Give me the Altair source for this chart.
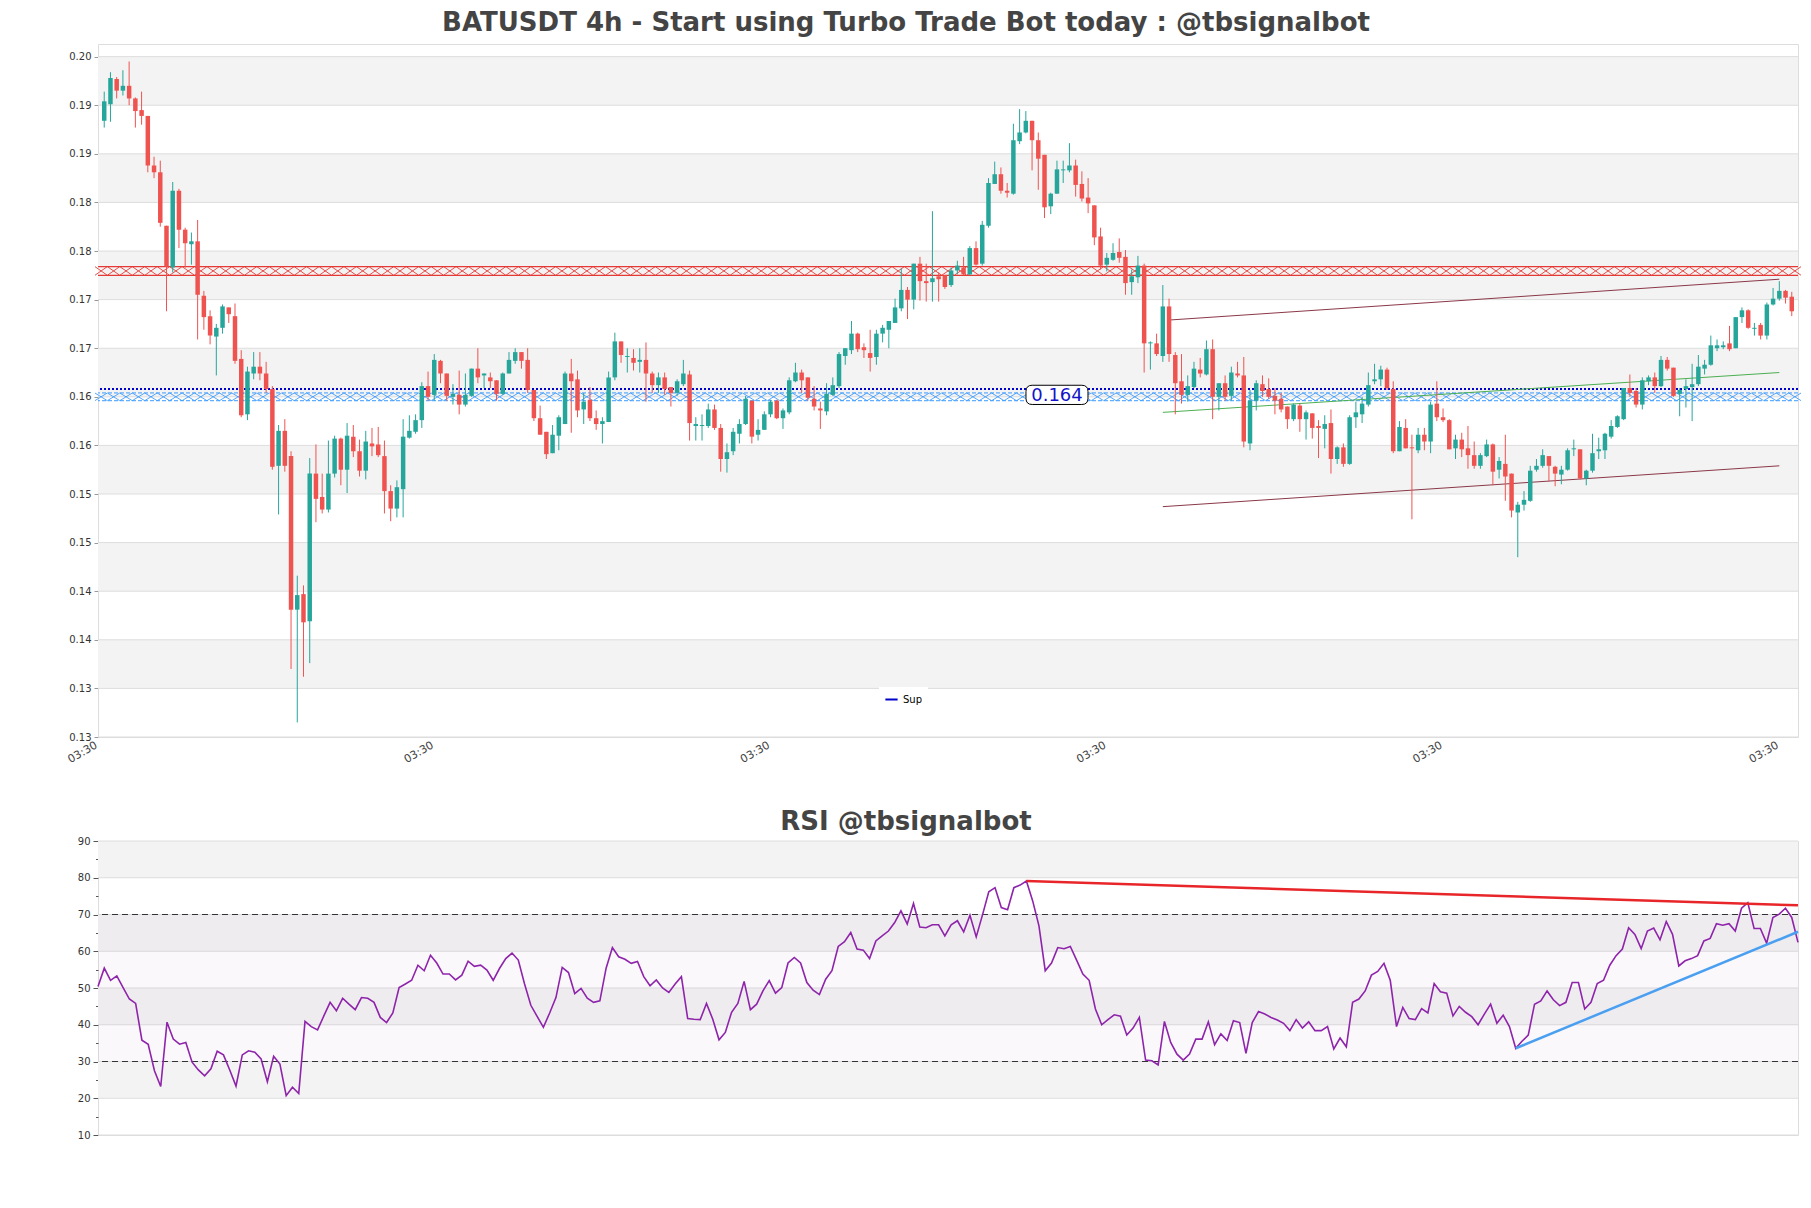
import altair as alt
import numpy as np
import pandas as pd

# ---------------- data ----------------
open_ = [
0.1934, 0.1951, 0.1977, 0.1965, 0.1970, 0.1957, 0.1945, 0.1939, 0.1888, 0.1881,
0.1826, 0.1783, 0.1862, 0.1822, 0.1807, 0.1810, 0.1754, 0.1733, 0.1712, 0.1721,
0.1742, 0.1733, 0.1689, 0.1632, 0.1674, 0.1681, 0.1674, 0.1658, 0.1579, 0.1615,
0.1589, 0.1431, 0.1447, 0.1419, 0.1571, 0.1547, 0.1534, 0.1571, 0.1607, 0.1575,
0.1609, 0.1594, 0.1574, 0.1602, 0.1601, 0.1589, 0.1553, 0.1535, 0.1555, 0.1608,
0.1614, 0.1626, 0.1661, 0.1652, 0.1687, 0.1674, 0.1650, 0.1652, 0.1642, 0.1651,
0.1679, 0.1672, 0.1670, 0.1667, 0.1653, 0.1674, 0.1687, 0.1696, 0.1688, 0.1657,
0.1628, 0.1614, 0.1592, 0.1610, 0.1622, 0.1674, 0.1668, 0.1637, 0.1647, 0.1628,
0.1622, 0.1624, 0.1670, 0.1707, 0.1691, 0.1690, 0.1686, 0.1688, 0.1674, 0.1662,
0.1670, 0.1660, 0.1654, 0.1663, 0.1673, 0.1620, 0.1620, 0.1620, 0.1637, 0.1618,
0.1586, 0.1594, 0.1612, 0.1622, 0.1646, 0.1611, 0.1616, 0.1632, 0.1646, 0.1628,
0.1634, 0.1666, 0.1675, 0.1670, 0.1648, 0.1638, 0.1635, 0.1652, 0.1661, 0.1692,
0.1698, 0.1715, 0.1701, 0.1695, 0.1691, 0.1715, 0.1719, 0.1726, 0.1741, 0.1760,
0.1750, 0.1787, 0.1769, 0.1768, 0.1774, 0.1775, 0.1765, 0.1780, 0.1783, 0.1776,
0.1803, 0.1787, 0.1826, 0.1869, 0.1879, 0.1862, 0.1859, 0.1913, 0.1922, 0.1934,
0.1914, 0.1899, 0.1846, 0.1859, 0.1883, 0.1883, 0.1888, 0.1869, 0.1855, 0.1847,
0.1815, 0.1786, 0.1791, 0.1799, 0.1794, 0.1768, 0.1773, 0.1785, 0.1705, 0.1705,
0.1692, 0.1743, 0.1693, 0.1666, 0.1652, 0.1660, 0.1678, 0.1673, 0.1699, 0.1650,
0.1664, 0.1651, 0.1674, 0.1672, 0.1602, 0.1646, 0.1663, 0.1658, 0.1651, 0.1648,
0.1640, 0.1627, 0.1641, 0.1627, 0.1633, 0.1620, 0.1617, 0.1623, 0.1586, 0.1598,
0.1581, 0.1629, 0.1632, 0.1642, 0.1666, 0.1668, 0.1678, 0.1658, 0.1594, 0.1618,
0.1598, 0.1595, 0.1611, 0.1604, 0.1643, 0.1629, 0.1626, 0.1597, 0.1606, 0.1597,
0.1590, 0.1579, 0.1589, 0.1601, 0.1575, 0.1581, 0.1571, 0.1531, 0.1539, 0.1543,
0.1575, 0.1579, 0.1589, 0.1578, 0.1570, 0.1575, 0.1596, 0.1596, 0.1566, 0.1574,
0.1594, 0.1595, 0.1609, 0.1619, 0.1627, 0.1659, 0.1656, 0.1642, 0.1666, 0.1670,
0.1661, 0.1688, 0.1680, 0.1653, 0.1658, 0.1660, 0.1663, 0.1679, 0.1683, 0.1700,
0.1701, 0.1705, 0.1700, 0.1732, 0.1739, 0.1720, 0.1724, 0.1713, 0.1745, 0.1751,
0.1759, 0.1753]

close = [
0.1954, 0.1978, 0.1965, 0.1970, 0.1957, 0.1944, 0.1939, 0.1888, 0.1881, 0.1829,
0.1784, 0.1862, 0.1822, 0.1808, 0.1810, 0.1755, 0.1732, 0.1713, 0.1721, 0.1743,
0.1735, 0.1687, 0.1631, 0.1676, 0.1681, 0.1674, 0.1658, 0.1578, 0.1615, 0.1579,
0.1431, 0.1446, 0.1418, 0.1571, 0.1545, 0.1534, 0.1571, 0.1607, 0.1575, 0.1610,
0.1594, 0.1574, 0.1604, 0.1599, 0.1590, 0.1553, 0.1535, 0.1557, 0.1609, 0.1615,
0.1626, 0.1661, 0.1650, 0.1688, 0.1674, 0.1651, 0.1653, 0.1642, 0.1652, 0.1679,
0.1670, 0.1674, 0.1666, 0.1653, 0.1674, 0.1688, 0.1696, 0.1687, 0.1657, 0.1628,
0.1611, 0.1591, 0.1611, 0.1629, 0.1674, 0.1666, 0.1636, 0.1645, 0.1628, 0.1622,
0.1625, 0.1670, 0.1707, 0.1693, 0.1692, 0.1685, 0.1688, 0.1674, 0.1662, 0.1670,
0.1658, 0.1654, 0.1666, 0.1674, 0.1623, 0.1622, 0.1621, 0.1637, 0.1618, 0.1586,
0.1593, 0.1614, 0.1622, 0.1648, 0.1609, 0.1616, 0.1632, 0.1645, 0.1628, 0.1636,
0.1667, 0.1675, 0.1667, 0.1649, 0.1640, 0.1636, 0.1653, 0.1662, 0.1694, 0.1700,
0.1715, 0.1699, 0.1698, 0.1690, 0.1715, 0.1721, 0.1728, 0.1742, 0.1760, 0.1750,
0.1787, 0.1769, 0.1767, 0.1772, 0.1771, 0.1763, 0.1780, 0.1785, 0.1776, 0.1803,
0.1786, 0.1827, 0.1870, 0.1879, 0.1862, 0.1860, 0.1914, 0.1922, 0.1934, 0.1914,
0.1895, 0.1845, 0.1859, 0.1884, 0.1884, 0.1888, 0.1868, 0.1854, 0.1849, 0.1814,
0.1785, 0.1793, 0.1798, 0.1793, 0.1767, 0.1774, 0.1785, 0.1705, 0.1706, 0.1694,
0.1743, 0.1694, 0.1664, 0.1652, 0.1661, 0.1679, 0.1674, 0.1699, 0.1650, 0.1664,
0.1650, 0.1675, 0.1672, 0.1604, 0.1646, 0.1664, 0.1656, 0.1650, 0.1646, 0.1637,
0.1627, 0.1642, 0.1627, 0.1634, 0.1618, 0.1618, 0.1622, 0.1586, 0.1598, 0.1581,
0.1629, 0.1634, 0.1643, 0.1662, 0.1668, 0.1678, 0.1659, 0.1594, 0.1619, 0.1597,
0.1597, 0.1611, 0.1604, 0.1642, 0.1629, 0.1626, 0.1596, 0.1606, 0.1596, 0.1590,
0.1579, 0.1590, 0.1601, 0.1573, 0.1584, 0.1568, 0.1533, 0.1539, 0.1544, 0.1574,
0.1579, 0.1590, 0.1579, 0.1571, 0.1575, 0.1595, 0.1597, 0.1566, 0.1574, 0.1592,
0.1596, 0.1612, 0.1620, 0.1630, 0.1659, 0.1654, 0.1642, 0.1667, 0.1670, 0.1661,
0.1688, 0.1679, 0.1651, 0.1657, 0.1661, 0.1663, 0.1681, 0.1683, 0.1703, 0.1703,
0.1703, 0.1699, 0.1732, 0.1739, 0.1721, 0.1721, 0.1713, 0.1745, 0.1751, 0.1759,
0.1752, 0.1738]

high = [
0.1964, 0.1984, 0.1979, 0.1986, 0.1995, 0.1958, 0.1964, 0.1939, 0.1897, 0.1893,
0.1826, 0.1871, 0.1864, 0.1824, 0.1819, 0.1832, 0.1759, 0.1739, 0.1725, 0.1745,
0.1742, 0.1746, 0.1698, 0.1681, 0.1696, 0.1696, 0.1686, 0.1661, 0.1621, 0.1627,
0.1594, 0.1466, 0.1456, 0.1587, 0.1601, 0.1571, 0.1605, 0.1610, 0.1608, 0.1623,
0.1621, 0.1606, 0.1615, 0.1618, 0.1619, 0.1605, 0.1559, 0.1564, 0.1627, 0.1631,
0.1632, 0.1665, 0.1676, 0.1694, 0.1688, 0.1674, 0.1663, 0.1677, 0.1674, 0.1679,
0.1700, 0.1674, 0.1675, 0.1667, 0.1675, 0.1696, 0.1700, 0.1696, 0.1700, 0.1657,
0.1641, 0.1614, 0.1621, 0.1631, 0.1676, 0.1689, 0.1677, 0.1654, 0.1660, 0.1636,
0.1629, 0.1676, 0.1716, 0.1707, 0.1700, 0.1699, 0.1700, 0.1706, 0.1676, 0.1675,
0.1675, 0.1660, 0.1668, 0.1688, 0.1677, 0.1629, 0.1632, 0.1643, 0.1642, 0.1622,
0.1602, 0.1618, 0.1627, 0.1651, 0.1646, 0.1627, 0.1635, 0.1647, 0.1647, 0.1638,
0.1670, 0.1685, 0.1678, 0.1670, 0.1661, 0.1645, 0.1664, 0.1670, 0.1696, 0.1700,
0.1728, 0.1716, 0.1705, 0.1719, 0.1719, 0.1724, 0.1728, 0.1751, 0.1782, 0.1763,
0.1787, 0.1794, 0.1787, 0.1841, 0.1778, 0.1775, 0.1783, 0.1790, 0.1794, 0.1805,
0.1810, 0.1831, 0.1875, 0.1892, 0.1886, 0.1870, 0.1931, 0.1946, 0.1944, 0.1934,
0.1922, 0.1899, 0.1860, 0.1893, 0.1893, 0.1911, 0.1894, 0.1882, 0.1875, 0.1847,
0.1824, 0.1798, 0.1808, 0.1813, 0.1801, 0.1781, 0.1795, 0.1787, 0.1707, 0.1715,
0.1765, 0.1751, 0.1696, 0.1694, 0.1672, 0.1686, 0.1690, 0.1708, 0.1709, 0.1664,
0.1672, 0.1681, 0.1686, 0.1691, 0.1657, 0.1667, 0.1672, 0.1669, 0.1659, 0.1654,
0.1640, 0.1643, 0.1643, 0.1636, 0.1633, 0.1626, 0.1631, 0.1637, 0.1599, 0.1602,
0.1631, 0.1645, 0.1650, 0.1675, 0.1684, 0.1682, 0.1680, 0.1666, 0.1625, 0.1627,
0.1611, 0.1618, 0.1618, 0.1645, 0.1666, 0.1638, 0.1627, 0.1611, 0.1613, 0.1620,
0.1604, 0.1592, 0.1606, 0.1602, 0.1588, 0.1611, 0.1571, 0.1542, 0.1553, 0.1579,
0.1586, 0.1596, 0.1589, 0.1579, 0.1579, 0.1597, 0.1606, 0.1596, 0.1575, 0.1612,
0.1608, 0.1613, 0.1626, 0.1631, 0.1659, 0.1673, 0.1659, 0.1670, 0.1672, 0.1675,
0.1692, 0.1691, 0.1680, 0.1659, 0.1668, 0.1684, 0.1693, 0.1688, 0.1713, 0.1709,
0.1707, 0.1723, 0.1732, 0.1742, 0.1740, 0.1726, 0.1726, 0.1747, 0.1762, 0.1769,
0.1760, 0.1758]

low = [
0.1927, 0.1933, 0.1957, 0.1960, 0.1950, 0.1927, 0.1930, 0.1881, 0.1875, 0.1825,
0.1738, 0.1778, 0.1803, 0.1783, 0.1786, 0.1709, 0.1719, 0.1704, 0.1672, 0.1715,
0.1726, 0.1684, 0.1629, 0.1626, 0.1668, 0.1667, 0.1654, 0.1575, 0.1529, 0.1573,
0.1370, 0.1315, 0.1362, 0.1376, 0.1521, 0.1530, 0.1531, 0.1567, 0.1559, 0.1551,
0.1588, 0.1568, 0.1565, 0.1589, 0.1588, 0.1530, 0.1522, 0.1526, 0.1526, 0.1607,
0.1612, 0.1618, 0.1646, 0.1646, 0.1664, 0.1646, 0.1642, 0.1632, 0.1640, 0.1650,
0.1664, 0.1659, 0.1659, 0.1646, 0.1652, 0.1674, 0.1684, 0.1679, 0.1654, 0.1625,
0.1611, 0.1586, 0.1592, 0.1595, 0.1622, 0.1613, 0.1629, 0.1622, 0.1625, 0.1616,
0.1602, 0.1624, 0.1667, 0.1685, 0.1675, 0.1677, 0.1675, 0.1645, 0.1654, 0.1654,
0.1652, 0.1640, 0.1651, 0.1661, 0.1605, 0.1605, 0.1605, 0.1618, 0.1616, 0.1573,
0.1572, 0.1590, 0.1602, 0.1621, 0.1602, 0.1605, 0.1616, 0.1629, 0.1627, 0.1617,
0.1632, 0.1665, 0.1654, 0.1646, 0.1636, 0.1617, 0.1631, 0.1651, 0.1659, 0.1683,
0.1694, 0.1696, 0.1690, 0.1676, 0.1683, 0.1706, 0.1700, 0.1726, 0.1738, 0.1730,
0.1740, 0.1749, 0.1748, 0.1748, 0.1748, 0.1761, 0.1763, 0.1776, 0.1775, 0.1775,
0.1785, 0.1785, 0.1824, 0.1869, 0.1859, 0.1855, 0.1858, 0.1910, 0.1921, 0.1883,
0.1863, 0.1834, 0.1838, 0.1859, 0.1870, 0.1881, 0.1856, 0.1851, 0.1839, 0.1806,
0.1781, 0.1779, 0.1790, 0.1788, 0.1755, 0.1755, 0.1767, 0.1675, 0.1678, 0.1692,
0.1686, 0.1686, 0.1632, 0.1643, 0.1645, 0.1659, 0.1670, 0.1672, 0.1627, 0.1636,
0.1646, 0.1646, 0.1670, 0.1598, 0.1595, 0.1636, 0.1650, 0.1648, 0.1632, 0.1634,
0.1617, 0.1625, 0.1614, 0.1606, 0.1607, 0.1587, 0.1597, 0.1571, 0.1581, 0.1578,
0.1580, 0.1618, 0.1623, 0.1640, 0.1663, 0.1661, 0.1657, 0.1592, 0.1594, 0.1597,
0.1524, 0.1592, 0.1595, 0.1592, 0.1625, 0.1624, 0.1596, 0.1586, 0.1588, 0.1576,
0.1576, 0.1576, 0.1588, 0.1559, 0.1566, 0.1543, 0.1526, 0.1485, 0.1533, 0.1542,
0.1573, 0.1577, 0.1563, 0.1558, 0.1560, 0.1574, 0.1589, 0.1565, 0.1559, 0.1572,
0.1586, 0.1586, 0.1607, 0.1618, 0.1626, 0.1650, 0.1639, 0.1637, 0.1662, 0.1654,
0.1660, 0.1677, 0.1650, 0.1630, 0.1639, 0.1625, 0.1661, 0.1673, 0.1682, 0.1697,
0.1699, 0.1697, 0.1700, 0.1726, 0.1720, 0.1713, 0.1709, 0.1709, 0.1744, 0.1749,
0.1746, 0.1733]

rsi = [
50.4, 55.4, 52.1, 53.3, 50.1, 47.0, 45.8, 35.8, 34.7, 27.5,
23.2, 40.7, 36.1, 34.7, 35.2, 29.8, 27.7, 26.1, 28.0, 32.8,
31.8, 27.7, 23.3, 31.8, 32.9, 32.5, 30.7, 24.5, 31.4, 29.3,
20.7, 23.0, 21.3, 40.9, 39.5, 38.6, 42.4, 46.1, 43.8, 47.2,
45.6, 44.1, 47.4, 47.2, 46.1, 42.0, 40.6, 43.2, 50.1, 51.1,
52.1, 56.2, 54.7, 58.9, 56.8, 53.8, 53.8, 52.2, 53.5, 57.3,
55.9, 56.2, 54.9, 52.1, 55.3, 58.0, 59.5, 57.6, 51.1, 45.3,
42.3, 39.3, 43.2, 47.4, 55.6, 54.2, 48.5, 49.9, 47.2, 46.1,
46.5, 55.4, 61.0, 58.5, 57.8, 56.7, 57.2, 53.1, 50.6, 52.2,
50.0, 48.8, 51.1, 53.1, 41.7, 41.5, 41.4, 45.8, 41.5, 35.9,
37.9, 43.4, 45.8, 51.8, 44.1, 45.6, 49.2, 52.0, 48.6, 50.1,
56.8, 58.3, 56.8, 51.5, 49.4, 48.2, 52.4, 54.7, 61.3, 62.6,
65.1, 60.6, 60.3, 58.0, 62.8, 64.2, 65.5, 67.8, 71.0, 67.4,
73.0, 66.6, 66.4, 67.2, 67.2, 64.2, 67.2, 68.3, 65.3, 69.8,
63.9, 69.9, 76.2, 77.3, 71.9, 71.3, 77.3, 78.0, 79.1, 73.7,
66.9, 54.7, 56.8, 61.0, 60.7, 61.3, 57.6, 53.8, 52.1, 44.3,
40.0, 41.4, 42.7, 42.3, 37.2, 39.1, 42.0, 30.4, 30.2, 29.1,
40.9, 35.2, 32.0, 30.4, 32.0, 36.1, 36.1, 40.8, 34.6, 37.5,
35.7, 41.1, 40.6, 32.2, 40.6, 43.6, 42.9, 42.0, 41.3, 40.4,
38.4, 41.4, 39.1, 40.8, 38.4, 38.4, 39.5, 33.4, 36.4, 34.0,
46.1, 47.0, 49.2, 53.5, 54.5, 56.7, 52.1, 39.5, 44.7, 41.7,
41.4, 44.4, 43.2, 51.2, 49.0, 48.6, 42.4, 45.0, 43.4, 42.2,
40.0, 42.9, 45.6, 40.4, 42.6, 39.5, 33.6, 35.5, 37.2, 45.6,
46.5, 49.2, 46.8, 45.2, 46.1, 51.5, 51.5, 44.3, 46.1, 51.2,
52.1, 56.2, 58.8, 60.6, 66.4, 64.6, 60.7, 65.5, 66.3, 63.1,
68.1, 64.6, 56.0, 57.4, 58.0, 58.8, 62.8, 63.5, 67.5, 67.1,
67.5, 65.5, 71.7, 73.2, 66.2, 66.2, 62.2, 69.2, 70.1, 71.7,
69.2, 62.4]

main_y_ticks = [0.130, 0.135, 0.140, 0.145, 0.150, 0.155, 0.160, 0.165,
                0.170, 0.175, 0.180, 0.185, 0.190, 0.195, 0.200]
x_tick_pos = [-1, 53, 107, 161, 215, 269]
x_tick_labels = ["03:30", "03:30", "03:30", "03:30", "03:30", "03:30"]

res_zone = [0.1775, 0.1784]          # red resistance band
sup_zone = [0.1646, 0.1654]          # light-blue support band
sup_line = [0.1658]                  # "Sup" dotted line
sup_label_text = ["0.164"]
sup_label_i = [153]
sup_label_p = [0.1652]

trend_name = ["upper", "upper", "mid", "mid", "lower", "lower"]
trend_i = [171, 269, 170, 269, 170, 269]
trend_p = [0.1729, 0.1771, 0.1634, 0.1675, 0.1537, 0.1579]
trend_col = ["#8a3848", "#8a3848", "#4caf50", "#4caf50", "#8a3848", "#8a3848"]

rsi_ticks = [10, 15, 20, 25, 30, 35, 40, 45, 50, 55, 60, 65, 70, 75, 80, 85, 90]
rsi_levels = [30, 70]
rsi_res_i = [148, 271]
rsi_res_v = [79.1, 72.5]
rsi_sup_i = [226, 271]
rsi_sup_v = [33.6, 65.3]

# ---------------- chart ----------------
FONT = "DejaVu Sans"
GREEN = "#26a69a"
RED = "#ef5350"
W = 1700
H1 = 693
H2 = 294
N = len(open_)

df = pd.DataFrame({"i": np.arange(N), "open": open_, "high": high,
                   "low": low, "close": close})
df["col"] = np.where(df["close"] >= df["open"], GREEN, RED)
mid = (df["open"] + df["close"]) / 2
half = np.maximum(np.abs(df["close"] - df["open"]) / 2, 0.00005)
df["bt"] = mid + half
df["bb"] = mid - half
df["x1"] = df["i"] - 0.36
df["x2"] = df["i"] + 0.36

xs = alt.Scale(domain=[-1, 272], nice=False, zero=False)
ys = alt.Scale(domain=[0.13, 0.2013], nice=False, zero=False)

xlabel_expr = ("[" + ",".join("'%s'" % s for s in x_tick_labels) + "][indexof(["
               + ",".join(str(v) for v in x_tick_pos) + "], datum.value)]")
XAX = alt.Axis(values=x_tick_pos, labelExpr=xlabel_expr, title=None, grid=False,
               domain=False, ticks=False, labelAngle=-30, labelAlign="right",
               labelBaseline="top", labelFontSize=11, labelColor="#444444",
               labelPadding=2, labelOffset=-5)
YAX = alt.Axis(values=main_y_ticks, title=None, grid=False, domain=False,
               labelExpr="format(floor(datum.value*100 + 0.0001)/100, '.2f')",
               tickSize=4, tickColor="#999999", labelFontSize=10,
               labelColor="#333333", labelPadding=3, minExtent=40, maxExtent=40)


def X(field):
    return alt.X(field, scale=xs, axis=XAX)


def Y(field):
    return alt.Y(field, scale=ys, axis=YAX)


band_lo = [main_y_ticks[k] for k in range(1, len(main_y_ticks) - 1, 2)]
band_hi = [main_y_ticks[k + 1] for k in range(1, len(main_y_ticks) - 1, 2)]
bands = alt.Chart(pd.DataFrame({"y": band_lo, "y2": band_hi})).mark_rect(
    color="#f3f3f3").encode(x=alt.value(0), x2=alt.value(W), y=Y("y:Q"), y2="y2:Q")

grid = alt.Chart(pd.DataFrame({"y": main_y_ticks})).mark_rule(
    color="#dddddd", strokeWidth=1).encode(y=Y("y:Q"))

XPATH = "M-1,-0.7L1,0.7M-1,0.7L1,-0.7"
xmarks = np.arange(-0.5, 272, 2.0)

res_lines = alt.Chart(pd.DataFrame({"y": res_zone})).mark_rule(
    color="#e53935", strokeWidth=1.2).encode(y=Y("y:Q"))
res_x = alt.Chart(pd.DataFrame({"i": xmarks, "y": np.mean(res_zone)})).mark_point(
    shape=XPATH, size=150, filled=False, color="#e53935", strokeWidth=0.9,
    opacity=1).encode(x=X("i:Q"), y=Y("y:Q"))

sup_lines = alt.Chart(pd.DataFrame({"y": sup_zone})).mark_rule(
    color="#3d9bff", strokeWidth=1, strokeDash=[4, 2]).encode(y=Y("y:Q"))
sup_x = alt.Chart(pd.DataFrame({"i": xmarks, "y": np.mean(sup_zone)})).mark_point(
    shape="M-1,-0.62L1,0.62M-1,0.62L1,-0.62", size=150, filled=False,
    color="#3d9bff", strokeWidth=0.9, opacity=1).encode(x=X("i:Q"), y=Y("y:Q"))

sup_rule = alt.Chart(pd.DataFrame({"y": sup_line, "name": ["Sup"]})).mark_rule(
    strokeWidth=2, strokeDash=[2, 2]).encode(
    y=Y("y:Q"),
    color=alt.Color("name:N", scale=alt.Scale(domain=["Sup"], range=["#0000cc"]),
                    legend=alt.Legend(orient="none", legendX=781, legendY=643,
                                      title=None, labelFontSize=10,
                                      labelColor="#000000", symbolType="stroke",
                                      symbolStrokeWidth=2, symbolSize=150,
                                      symbolDash=[1, 0], fillColor="white",
                                      padding=5, labelFont=FONT)))

trends = alt.Chart(pd.DataFrame({"name": trend_name, "i": trend_i, "p": trend_p,
                                 "col": trend_col})).mark_line(strokeWidth=1).encode(
    x=X("i:Q"), y=Y("p:Q"), detail="name:N", color=alt.Color("col:N", scale=None))

wicks = alt.Chart(df).mark_rule(strokeWidth=1).encode(
    x=X("i:Q"), y=Y("low:Q"), y2="high:Q", color=alt.Color("col:N", scale=None))

bodies = alt.Chart(df).mark_rect().encode(
    x=X("x1:Q"), x2="x2:Q", y=Y("bb:Q"), y2="bt:Q",
    color=alt.Color("col:N", scale=None))

BOX = ("M-0.8,-0.31L0.8,-0.31Q1,-0.31 1,-0.11L1,0.11Q1,0.31 0.8,0.31"
       "L-0.8,0.31Q-1,0.31 -1,0.11L-1,-0.11Q-1,-0.31 -0.8,-0.31Z")
lab_df = pd.DataFrame({"i": sup_label_i, "p": sup_label_p, "t": sup_label_text})
lab_box = alt.Chart(lab_df).mark_point(
    shape=BOX, size=3844, filled=True, fill="white", stroke="black",
    strokeWidth=1, opacity=1).encode(x=X("i:Q"), y=Y("p:Q"))
lab_txt = alt.Chart(lab_df).mark_text(
    fontSize=18, color="#1414c8", font=FONT, baseline="middle", dy=1).encode(
    x=X("i:Q"), y=Y("p:Q"), text="t:N")

main = alt.layer(bands, grid, res_x, res_lines, sup_x, sup_lines, sup_rule,
                 trends, wicks, bodies, lab_box, lab_txt).properties(
    width=W, height=H1,
    title=alt.TitleParams("BATUSDT 4h - Start using Turbo Trade Bot today : @tbsignalbot",
                          fontSize=26, fontWeight="bold", color="#444444",
                          anchor="middle", offset=8, dx=-42, font=FONT))

# ---------------- RSI ----------------
xs2 = alt.Scale(domain=[0, len(rsi) - 1], nice=False, zero=False)
ys2 = alt.Scale(domain=[10, 90], nice=False, zero=False)
RYAX = alt.Axis(values=rsi_ticks, title=None, grid=False, domain=False,
                labelExpr="datum.value % 10 == 0 ? datum.value : ''",
                tickSize={"condition": {"test": "datum.value % 10 == 0", "value": 5},
                          "value": 2.5},
                tickColor="#555555", labelFontSize=10,
                labelColor="#333333", labelPadding=3, minExtent=40, maxExtent=40)


def RX(field):
    return alt.X(field, scale=xs2, axis=None)


def RY(field):
    return alt.Y(field, scale=ys2, axis=RYAX)


rsi_major = [v for v in rsi_ticks if v % 10 == 0]
rb_lo = [rsi_major[k] for k in range(1, len(rsi_major) - 1, 2)]
rb_hi = [rsi_major[k + 1] for k in range(1, len(rsi_major) - 1, 2)]

r_bands = alt.Chart(pd.DataFrame({"y": rb_lo, "y2": rb_hi})).mark_rect(
    color="#f3f3f3").encode(x=alt.value(0), x2=alt.value(W), y=RY("y:Q"), y2="y2:Q")
r_grid = alt.Chart(pd.DataFrame({"y": rsi_major})).mark_rule(
    color="#dddddd", strokeWidth=1).encode(y=RY("y:Q"))
r_hatch = alt.Chart(pd.DataFrame({"y": [rsi_levels[0]], "y2": [rsi_levels[1]]})).mark_rect(
    color="#9b59b6", opacity=0.045).encode(
    x=alt.value(0), x2=alt.value(W), y=RY("y:Q"), y2="y2:Q")
r_levels = alt.Chart(pd.DataFrame({"y": rsi_levels})).mark_rule(
    color="#333333", strokeWidth=1.2, strokeDash=[6, 4]).encode(y=RY("y:Q"))
r_line = alt.Chart(pd.DataFrame({"i": np.arange(len(rsi)), "v": rsi})).mark_line(
    color="#8e24aa", strokeWidth=1.6).encode(x=RX("i:Q"), y=RY("v:Q"))
r_res = alt.Chart(pd.DataFrame({"i": rsi_res_i, "v": rsi_res_v})).mark_line(
    color="#e8262a", strokeWidth=2.5).encode(x=RX("i:Q"), y=RY("v:Q"))
r_sup = alt.Chart(pd.DataFrame({"i": rsi_sup_i, "v": rsi_sup_v})).mark_line(
    color="#4a9ff0", strokeWidth=2.5).encode(x=RX("i:Q"), y=RY("v:Q"))

rsi_chart = alt.layer(r_bands, r_grid, r_hatch, r_levels, r_line, r_res, r_sup).properties(
    width=W, height=H2,
    title=alt.TitleParams("RSI @tbsignalbot", fontSize=26, fontWeight="bold",
                          color="#444444", anchor="middle", offset=1, dx=-42,
                          font=FONT))

chart = alt.vconcat(main, rsi_chart, spacing=43).properties(
    padding={"left": 57, "top": 9, "right": 5, "bottom": 5},
    background="white"
).configure(font=FONT).configure_view(stroke="#dddddd", strokeWidth=1)

chart.save("out.html", embed_options={"renderer": "svg", "actions": False})
